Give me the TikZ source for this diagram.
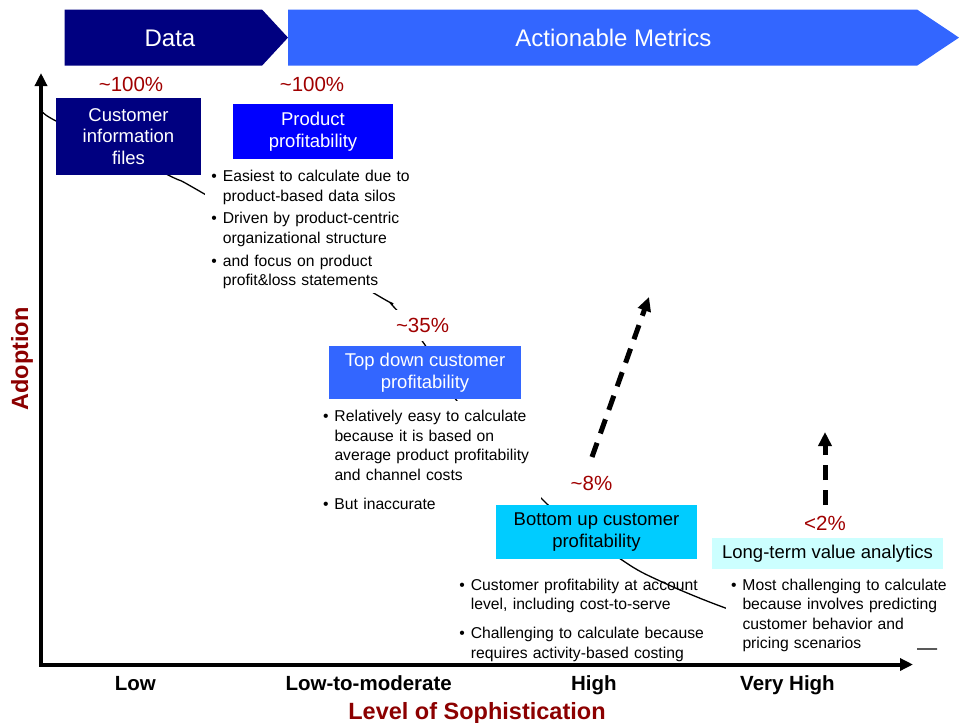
\documentclass[tikz,border=0pt]{standalone}
\usepackage{fontspec}
\setmainfont{Liberation Sans}
\usetikzlibrary{arrows.meta}

\definecolor{navybox}{HTML}{000080}
\definecolor{pureblue}{HTML}{0000FF}
\definecolor{midblue}{HTML}{3366FF}
\definecolor{cyanbox}{HTML}{00CCFF}
\definecolor{palecyan}{HTML}{CCFFFF}
\definecolor{pctred}{HTML}{A00000}
\definecolor{titlered}{HTML}{8C0000}

% one bulleted point with a hanging indent; lines are broken with \newline
\newcommand\bpoint[1]{\par\hyphenpenalty=10000 \exhyphenpenalty=10000
  \hangindent=11.5pt\hangafter=1\noindent\hbox to 11.5pt{\textbullet\hss}#1\par}

\begin{document}
\begin{tikzpicture}[x=1pt,y=-1pt,
  trend/.style={line width=1.3pt, black},
  blist/.style={anchor=north west, inner xsep=6pt, inner ysep=4pt,
    font=\fontsize{15.7}{19.5}\selectfont, text=black},
  metric/.style={rectangle, inner sep=0pt, align=center,
    font=\fontsize{18.5}{21.5}\selectfont},
  pct/.style={anchor=base, inner sep=0pt, text=pctred,
    font=\fontsize{20.5}{24}\selectfont},
  banner/.style={anchor=base, inner sep=0pt, text=white,
    font=\fontsize{24}{28}\selectfont},
  cat/.style={anchor=base, inner sep=0pt, font=\fontsize{20.5}{24}\selectfont\bfseries},
  axistitle/.style={anchor=base, inner sep=0pt, text=titlered,
    font=\fontsize{23.5}{28}\selectfont\bfseries},
  axisline/.style={line width=4pt, line join=miter,
    {Triangle[length=13pt,width=12pt]}-{Triangle[length=13pt,width=12pt]}},
  dasharrow/.style={line width=5pt, dash pattern=on 15pt off 10pt,
    -{Triangle[length=14pt,width=13pt]}}
]
\useasboundingbox (0,0) rectangle (959,723);

% adoption trend, running behind the boxes and text
\draw[trend] plot[smooth, tension=0.55] coordinates {
  (43,110) (56,121) (168,175) (201,192) (377,295) (392,305) (425,345)
  (457,401) (546,503) (622,560) (660,581) (720,606) (800,633) (880,646) (920,649)}
  -- (937,649);

% white ground behind the last bullet block
\fill[white] (726,567) rectangle (917,655);

% bullet blocks
\node[blist, fill=white, text width=204pt] (b1) at (205.2,158) {%
  \bpoint{Easiest to calculate due to\newline product-based data silos}\vspace{3.2pt}%
  \bpoint{Driven by product-centric\newline organizational structure}\vspace{3.2pt}%
  \bpoint{and focus on product\newline profit\&loss statements}};
\node[blist, fill=white, inner ysep=1pt, text width=212pt] (b2) at (316.8,401.2) {%
  \bpoint{Relatively easy to calculate\newline because it is based on\newline average product profitability\newline and channel costs}\vspace{9.6pt}%
  \bpoint{But inaccurate}};
\node[blist, text width=256pt] (b3) at (453.2,566.5) {%
  \bpoint{Customer profitability at account\newline level, including cost-to-serve}\vspace{9.6pt}%
  \bpoint{Challenging to calculate because\newline requires activity-based costing}};
\node[blist, text width=228pt] (b4) at (724.8,566.5) {%
  \bpoint{Most challenging to calculate\newline because involves predicting\newline customer behavior and\newline pricing scenarios}};

% metric boxes
\node[metric, fill=navybox, text=white, minimum width=145pt, minimum height=77pt]
  (cif) at (128.5,136.5) {Customer\\information\\files};
\node[metric, fill=pureblue, text=white, minimum width=160pt, minimum height=55pt]
  (prod) at (313,131.5) {Product\\profitability};
\node[metric, fill=midblue, text=white, minimum width=192pt, minimum height=53pt]
  (topdown) at (425,372.5) {Top down customer\\profitability};
\node[metric, fill=cyanbox, text=black, minimum width=201pt, minimum height=54pt]
  (bottomup) at (596.5,532) {Bottom up customer\\profitability};
\node[metric, fill=palecyan, text=black, minimum width=231pt, minimum height=31pt]
  (longterm) at (827.5,553.5) {Long-term value analytics};

% adoption shares
\node[pct] (p1) at (131,91.7) {\textasciitilde 100\%};
\node[pct] (p2) at (312,91.7) {\textasciitilde 100\%};
\node[pct, fill=white, inner xsep=4pt, inner ysep=8pt] (p3) at (422.5,332.3) {\textasciitilde 35\%};
\node[pct] (p4) at (591.5,490.7) {\textasciitilde 8\%};
\node[pct] (p5) at (825,530.7) {<2\%};

% stage banners
\fill[navybox] (64.5,9.5) -- (262,9.5) -- (288,37.6) -- (262,65.7) -- (64.5,65.7) -- cycle;
\fill[midblue] (288,9.5) -- (917,9.5) -- (959,37.6) -- (917,65.7) -- (288,65.7) -- cycle;
\node[banner] (data) at (170,46.7) {Data};
\node[banner] (metrics) at (613.5,46.7) {Actionable Metrics};

% axes
\coordinate (ytop) at (41,73);
\coordinate (orig) at (41,664.5);
\coordinate (xend) at (913,664.5);
\draw[axisline] (ytop) -- (orig) -- (xend);

% upside arrows
\coordinate (a1s) at (592,457);
\coordinate (a1e) at (649,297);
\draw[dasharrow] (a1s) -- (a1e);
\coordinate (a2s) at (825,505);
\coordinate (a2e) at (825,432);
\draw[dasharrow] (a2s) -- (a2e);

% axis labels
\node[cat] (low) at (135.3,690.7) {Low};
\node[cat] (lowmod) at (368.7,690.7) {Low-to-moderate};
\node[cat] (high) at (593.8,690.7) {High};
\node[cat] (vhigh) at (787.5,690.7) {Very High};
\node[axistitle] (xtitle) at (477,719) {Level of Sophistication};
\node[axistitle, rotate=90] (ytitle) at (28,359) {Adoption};
\end{tikzpicture}
\end{document}
